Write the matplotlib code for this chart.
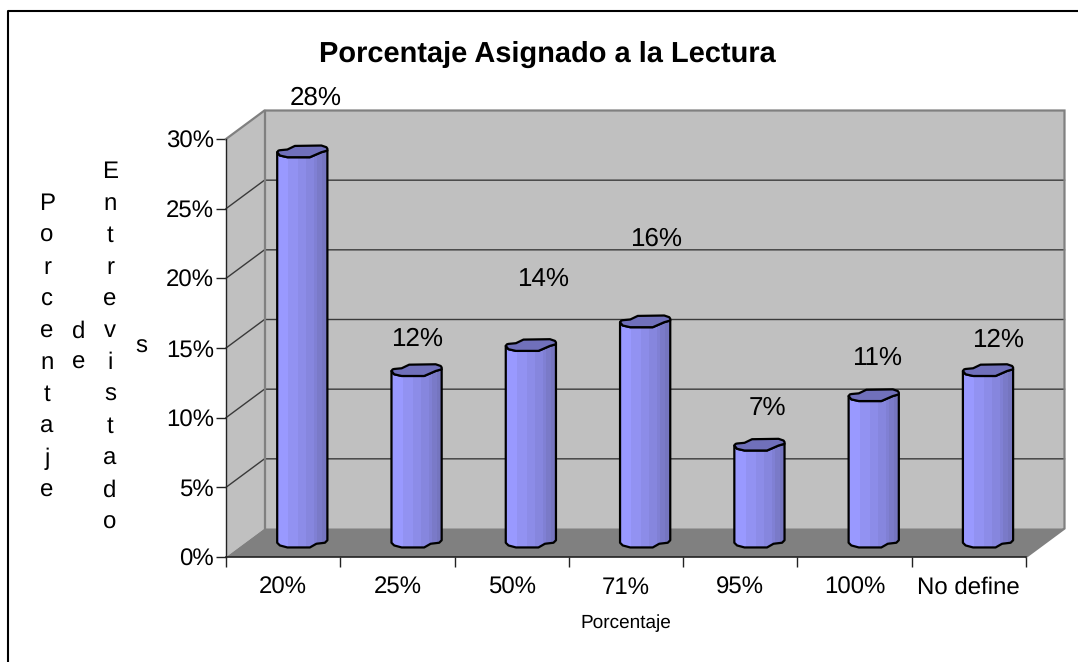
import matplotlib
matplotlib.use("Agg")
import matplotlib.pyplot as plt
from matplotlib.patches import Polygon

plt.rcParams['font.family'] = ['Liberation Sans', 'DejaVu Sans']
plt.rcParams['text.hinting'] = 'no_hinting'
plt.rcParams['text.hinting_factor'] = 1

# Datos del grafico
categorias = ["20%", "25%", "50%", "71%", "95%", "100%", "No define"]
valores = [28.1, 12.4, 14.2, 15.9, 7.05, 10.6, 12.4]
y_ticks = [0, 5, 10, 15, 20, 25, 30]

# Desplazamiento de cada etiqueta respecto a la tapa del cilindro (px)
label_dx = [13.5, 0, 12, 11, 8, 3, 10]
label_dy = [53, 31, 66, 82, 36, 37, 30]

W, H = 1078, 662
fig = plt.figure(figsize=(W / 100, H / 100), dpi=100, facecolor="white")

# el eje cubre el plano frontal: x 226-1026, y 557-139 (px)
x0, x1, y0, y1 = 226, 1026, 557, 139
ax = fig.add_axes([x0 / W, 1 - y0 / H, (x1 - x0) / W, (y0 - y1) / H])
ax.set_xlim(0, len(categorias))
ax.set_ylim(0, 30)
ax.patch.set_visible(False)

# px -> unidades de datos
ux = len(categorias) / (x1 - x0)
uy = 30 / (y0 - y1)
dx = 38.5 * ux
dy = 28.5 * uy
n = len(categorias)

# paredes
ax.add_patch(Polygon([(0, 0), (dx, dy), (dx, 30 + dy), (0, 30)], closed=True, fc="#c0c0c0", ec="none", clip_on=False, zorder=1))
ax.add_patch(Polygon([(dx, dy), (n + dx, dy), (n + dx, 30 + dy), (dx, 30 + dy)], closed=True, fc="#c0c0c0", ec="none", clip_on=False, zorder=1))
ax.add_patch(Polygon([(0, 0), (n, 0), (n + dx, dy), (dx, dy)], closed=True, fc="#808080", ec="none", clip_on=False, zorder=1))

# lineas de division
for t in y_ticks[1:-1]:
    ax.plot([0, dx, n + dx], [t, t + dy, t + dy], color="#3a3a3a", lw=1.0, clip_on=False, zorder=2)

# bordes grises de las paredes
ax.plot([0, dx, n + dx, n + dx, n], [30, 30 + dy, 30 + dy, dy, 0], color="#808080", lw=1.6, clip_on=False, zorder=2, solid_joinstyle="miter")
ax.plot([dx, dx], [dy, 30 + dy], color="#808080", lw=1.6, clip_on=False, zorder=2)

# perfiles del cilindro en px respecto al centro
tapa = [(-25.2, -1), (-24, 0.6), (-22.5, 1), (-15, 1.7), (-7.5, 5.3), (19, 5.7), (24, 4), (25, 2.5), (25, 0.7),
        (19, -1), (7.5, -6), (-15, -6), (-22.5, -4.3)]
frente_tapa = [(-25.2, -1), (-22.5, -4.3), (-15, -6), (7.5, -6), (19, -1), (25, 0.7)]
base = [(25, 2.5), (22.5, 0), (14, -1), (7.5, -4.7), (-15, -4.7), (-22.5, -2.7), (-25.2, 0)]
bandas = ["#9999ff", "#9292f2", "#8c8ce8", "#8686de", "#8080d4", "#7a7ac8", "#7575bf"]
bordes = [-25.2, -14, -4, 4, 12, 15, 20, 25.2]

for i, v in enumerate(valores):
    cx = i + 0.5 + dx / 2
    by = dy / 2
    tx = by + v

    cuerpo = [(cx + a * ux, tx + b * uy) for a, b in frente_tapa] + [(cx + a * ux, by + b * uy) for a, b in base]
    silueta = Polygon(cuerpo, closed=True, fc="none", ec="black", lw=1.6, clip_on=False, zorder=5, joinstyle="round")
    ax.add_patch(silueta)
    for k, c in enumerate(bandas):
        xa, xb = cx + bordes[k] * ux, cx + bordes[k + 1] * ux
        b = ax.bar((xa + xb) / 2, v + 12 * uy, width=(xb - xa), bottom=by - 6 * uy, color=c, lw=0, zorder=4)
        b[0].set_clip_path(silueta)

    ax.add_patch(Polygon([(cx + a * ux, tx + b * uy) for a, b in tapa], closed=True, fc="#7070bb", ec="black", lw=1.6, clip_on=False, zorder=6, joinstyle="round"))

    ax.annotate(f"{round(v)}%", (cx, tx), xytext=(label_dx[i] * 0.72, label_dy[i] * 0.72), textcoords="offset points",
                ha="center", va="center", fontsize=18.5, color="black", annotation_clip=False, zorder=7)

# ejes
for s in ["top", "right"]:
    ax.spines[s].set_visible(False)
ax.spines["left"].set_color("#222222")
ax.spines["bottom"].set_color("#222222")
ax.spines["left"].set_linewidth(1.0)
ax.spines["bottom"].set_linewidth(1.2)
ax.spines["left"].set_zorder(3)
ax.spines["bottom"].set_zorder(3)

ax.set_yticks(y_ticks)
ax.set_yticklabels([f"{t}%" for t in y_ticks], fontsize=17)
ax.set_xticks(range(n + 1))
ax.set_xticklabels([])
ax.set_xticks([i + 0.5 for i in range(n)], minor=True)
ax.set_xticklabels(categorias, minor=True, fontsize=17)
ax.tick_params(axis="y", length=7, width=1, pad=1.5, color="#222222")
ax.tick_params(axis="x", which="major", length=7, width=1, color="#222222")
ax.tick_params(axis="x", which="minor", length=0, pad=14)

# textos
fig.text(547 / W, 1 - 54 / H, "Porcentaje Asignado a la Lectura", ha="center", va="center", fontsize=21, fontweight="bold")
fig.text(625.5 / W, 1 - 623 / H, "Porcentaje", ha="center", va="center", fontsize=14)
for palabra, px in [("Porcentaje", 47), ("de", 79), ("Entrevistado", 110), ("s", 141)]:
    fig.text(px / W, 1 - 347 / H, "\n".join(palabra), ha="center", va="center", fontsize=17, linespacing=1.545)

# marco exterior
fig.add_artist(plt.Line2D([7.5 / W, 7.5 / W, 1], [0, 1 - 10.5 / H, 1 - 10.5 / H], color="black", lw=1.5))

fig.savefig("out.png", dpi=100)
